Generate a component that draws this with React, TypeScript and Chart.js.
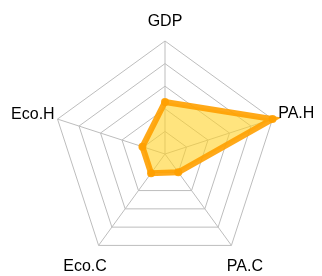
import React, { useEffect, useRef } from "react";
import { Chart, registerables } from "chart.js";

Chart.register(...registerables);

const categories = ["GDP", "PA.H", "PA.C", "Eco.C", "Eco.H"];
const values = [0.46, 1.0, 0.2, 0.21, 0.21];

// label placement relative to the radar scale (extra distance, align, vertical shift)
const labelPlacement = [
  { extra: 15, align: "center", dy: 0 },
  { extra: 6, align: "left", dy: 1 },
  { extra: 23, align: "center", dy: 7 },
  { extra: 23, align: "center", dy: 7 },
  { extra: 3, align: "right", dy: 1 },
];

const pointLabelPlugin = {
  id: "customPointLabels",
  afterDraw(chart: any) {
    const scale = chart.scales.r;
    const ctx = chart.ctx;
    ctx.save();
    ctx.font = "16px 'Liberation Sans', Arial, sans-serif";
    ctx.fillStyle = "#000";
    ctx.textBaseline = "alphabetic";
    categories.forEach((label, i) => {
      const p = labelPlacement[i];
      const pos = scale.getPointPosition(i, scale.drawingArea + p.extra);
      ctx.textAlign = p.align;
      ctx.fillText(label, pos.x, pos.y + p.dy);
    });
    ctx.restore();
  },
};

export default function App() {
  const ref = useRef<HTMLCanvasElement>(null);
  useEffect(() => {
    if (!ref.current) return;
    const chart = new Chart(ref.current, {
      type: "radar",
      data: {
        labels: categories,
        datasets: [
          {
            data: values,
            borderColor: "rgba(255,160,0,0.9)",
            backgroundColor: "rgba(255,210,40,0.6)",
            borderWidth: 6,
            pointRadius: 4,
            pointBackgroundColor: "rgba(255,160,0,0.9)",
            pointBorderColor: "rgba(255,160,0,0.9)",
            pointBorderWidth: 0,
            fill: true,
          },
        ],
      },
      options: {
        animation: false,
        responsive: false,
        layout: { padding: { top: 41, bottom: 8, left: 20, right: 11 } },
        plugins: { legend: { display: false }, tooltip: { enabled: false } },
        scales: {
          r: {
            min: 0,
            max: 1,
            ticks: { stepSize: 0.2, display: false },
            grid: { color: "#bdbdbd", lineWidth: 1 },
            angleLines: { color: "#bdbdbd", lineWidth: 1 },
            pointLabels: { display: false },
          },
        },
      },
      plugins: [pointLabelPlugin],
    });
    return () => chart.destroy();
  }, []);
  return (
    <div style={{ position: "fixed", left: 0, top: 0, width: 322, height: 276 }}>
      <canvas ref={ref} width={322} height={276} style={{ display: "block" }} />
    </div>
  );
}
